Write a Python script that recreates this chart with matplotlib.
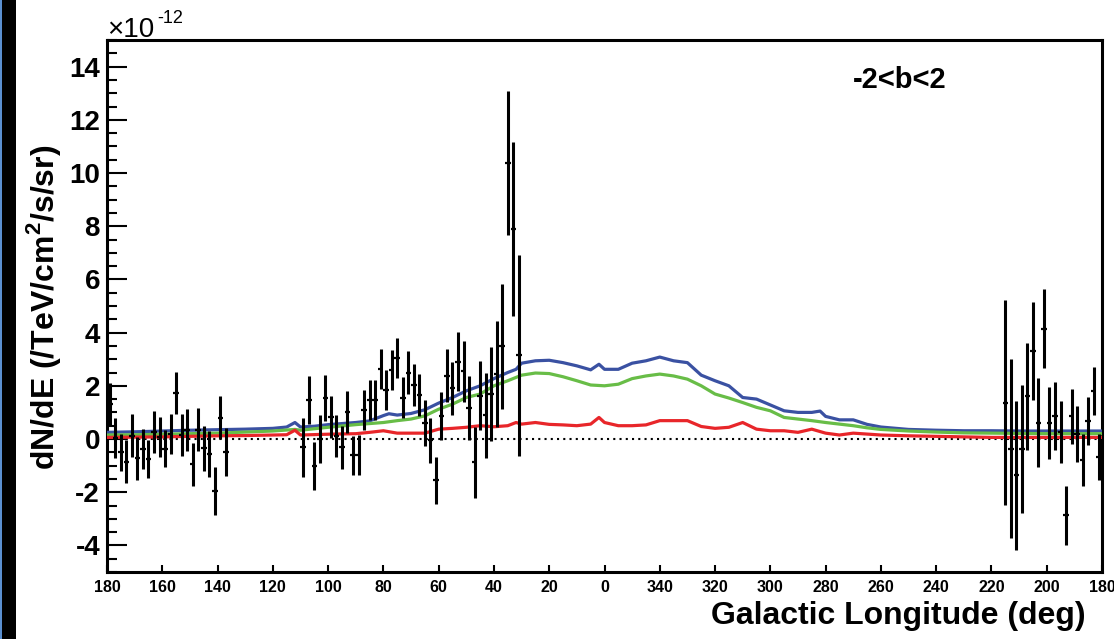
import numpy as np
import matplotlib
matplotlib.use("Agg")
import matplotlib.pyplot as plt
from matplotlib.ticker import MultipleLocator, FixedLocator, FixedFormatter
from matplotlib.patches import Rectangle

plt.rcParams['font.family'] = ['Liberation Sans', 'DejaVu Sans']
plt.rcParams['mathtext.fontset'] = 'custom'
plt.rcParams['mathtext.rm'] = 'Liberation Sans'
plt.rcParams['mathtext.bf'] = 'Liberation Sans:bold'
plt.rcParams['axes.unicode_minus'] = False

# ---------------- data (flux in units of 1e-12 /TeV/cm2/s/sr) ----------------
point_lon = [179, 177, 175, 173, 171, 169, 167, 165, 163, 161, 159, 157, 155, 153,
             151, 149, 147, 145, 143, 141, 139, 137,
             109, 107, 105, 103, 101, 99, 97, 95, 93, 91, 89, 87, 85, 83, 81, 79,
             77, 75, 73, 71, 69, 67, 65, 63, 61, 59, 57, 55, 53, 51, 49, 47, 45,
             43, 41, 39, 37, 35, 33, 31,
             215, 213, 211, 209, 207, 205, 203, 201, 199, 197, 195, 193, 191, 189,
             187, 185, 183, 181]
point_flux = [1.30, 0.03, -0.50, -0.85, 0.13, -0.73, -0.37, -0.75, 0.27, 0.07, -0.37,
              0.20, 1.73, 0.15, 0.33, -0.95, 0.35, -0.35, -0.56, -1.96, 0.80, -0.50,
              -0.31, 1.47, -1.00, 0.00, 1.54, 0.83, 0.12, -0.31, 1.02, -0.62, -0.61,
              1.10, 1.46, 1.45, 2.64, 1.84, 2.59, 3.03, 1.56, 2.50, 2.03, 1.65, 0.60,
              -0.05, -1.56, 0.85, 2.38, 1.90, 2.91, 2.54, 1.15, -0.87, 1.63, 0.90,
              1.69, 2.44, 3.48, 10.37, 7.90, 3.15,
              1.37, -0.37, -1.37, -0.37, 1.60, 3.31, 0.62, 4.15, 0.60, 0.87, 0.25,
              -2.87, 0.85, 0.19, -0.79, 0.69, 1.81, -0.69]
point_err = [0.80, 0.75, 0.70, 0.80, 0.80, 0.80, 0.75, 0.70, 0.80, 0.75, 0.70, 0.75,
             0.78, 0.78, 0.78, 0.80, 0.80, 0.85, 0.85, 0.90, 0.80, 0.90,
             1.10, 0.90, 0.90, 0.90, 0.85, 0.80, 0.80, 0.80, 0.80, 0.75, 0.75, 0.75,
             0.75, 0.75, 0.75, 0.75, 0.75, 0.75, 0.78, 0.80, 0.80, 0.80, 0.85, 0.85,
             0.90, 0.90, 1.00, 1.00, 1.10, 1.15, 1.20, 1.33, 1.30, 1.60, 1.77, 2.00,
             2.35, 2.70, 3.27, 3.78,
             3.85, 3.36, 2.80, 2.40, 2.00, 1.84, 1.67, 1.49, 1.37, 1.28, 1.17, 1.10,
             1.04, 1.04, 0.98, 0.90, 0.89, 0.87]

# model curves, longitude given as signed galactic longitude (-180..180)
blue_lon = [180, 170, 160, 150, 140, 130, 120, 115, 112, 110, 105, 100, 95, 90, 85,
            80, 78, 75, 70, 65, 60, 55, 50, 45, 40, 35, 32, 30, 25, 20, 15, 10, 5,
            2, 0, -5, -10, -15, -20, -25, -30, -35, -40, -45, -50, -55, -60, -65,
            -70, -75, -78, -80, -85, -90, -95, -100, -110, -120, -130, -140, -150,
            -160, -170, -180]
blue_flux = [0.25, 0.27, 0.30, 0.33, 0.35, 0.37, 0.40, 0.45, 0.62, 0.45, 0.48, 0.54,
             0.58, 0.62, 0.68, 0.88, 0.95, 0.90, 0.96, 1.10, 1.35, 1.56, 1.81, 2.00,
             2.27, 2.50, 2.62, 2.85, 2.94, 2.96, 2.87, 2.75, 2.60, 2.81, 2.62, 2.62,
             2.85, 2.94, 3.08, 2.94, 2.87, 2.40, 2.19, 2.00, 1.56, 1.50, 1.28, 1.06,
             1.00, 1.00, 1.05, 0.85, 0.72, 0.72, 0.55, 0.45, 0.36, 0.33, 0.31, 0.31,
             0.30, 0.30, 0.30, 0.30]

green_lon = [180, 170, 160, 150, 140, 130, 120, 112, 110, 100, 90, 80, 75, 70, 65,
             60, 55, 50, 45, 40, 35, 30, 25, 20, 15, 10, 5, 0, -5, -10, -15, -20,
             -25, -30, -35, -40, -45, -50, -55, -60, -65, -70, -75, -80, -85, -90,
             -95, -100, -110, -120, -130, -140, -150, -160, -170, -180]
green_flux = [0.15, 0.16, 0.18, 0.20, 0.22, 0.26, 0.30, 0.36, 0.33, 0.44, 0.54, 0.62,
              0.69, 0.75, 0.87, 1.12, 1.31, 1.56, 1.69, 2.00, 2.19, 2.40, 2.48, 2.46,
              2.34, 2.19, 2.03, 2.00, 2.06, 2.27, 2.37, 2.44, 2.37, 2.25, 2.00, 1.69,
              1.54, 1.37, 1.19, 1.06, 0.81, 0.75, 0.69, 0.62, 0.56, 0.50, 0.42, 0.36,
              0.30, 0.26, 0.23, 0.22, 0.21, 0.20, 0.20, 0.20]

red_lon = [180, 170, 160, 150, 140, 130, 120, 115, 112, 110, 100, 90, 85, 80, 75, 70,
           65, 60, 55, 50, 45, 40, 35, 32, 30, 25, 20, 15, 10, 5, 2, 0, -5, -10,
           -15, -20, -25, -30, -35, -40, -45, -50, -55, -60, -65, -70, -75, -80,
           -85, -90, -100, -110, -120, -130, -140, -150, -160, -170, -180]
red_flux = [0.06, 0.07, 0.08, 0.10, 0.12, 0.13, 0.15, 0.16, 0.33, 0.15, 0.18, 0.20,
            0.25, 0.31, 0.22, 0.22, 0.22, 0.37, 0.40, 0.44, 0.50, 0.46, 0.50, 0.62,
            0.56, 0.62, 0.55, 0.53, 0.50, 0.56, 0.81, 0.62, 0.50, 0.50, 0.53, 0.69,
            0.69, 0.69, 0.47, 0.40, 0.44, 0.62, 0.37, 0.31, 0.31, 0.25, 0.37, 0.22,
            0.15, 0.22, 0.15, 0.12, 0.10, 0.08, 0.06, 0.06, 0.06, 0.06, 0.06]

tick_pos = list(range(180, -181, -20))
tick_labels = [str(t % 360) if t != 180 and t != -180 else "180" for t in tick_pos]

# ---------------- figure ----------------
W, H = 1114, 639
fig = plt.figure(figsize=(W / 100, H / 100), dpi=100)
fig.patch.set_facecolor('white')

# left dark frame strip
fig.patches.append(Rectangle((0, 0), 16 / W, 1, transform=fig.transFigure,
                             facecolor='black', edgecolor='none', zorder=0))
fig.patches.append(Rectangle((0, 0), 1.7 / W, 1, transform=fig.transFigure,
                             facecolor='#5a8fd0', edgecolor='none', zorder=1))

x0, x1, yt, yb = 107, 1102, 40, 572
ax = fig.add_axes([x0 / W, 1 - yb / H, (x1 - x0) / W, (yb - yt) / H])

def signed(l):
    l = np.asarray(l, dtype=float)
    return np.where(l > 180, l - 360, l)

ax.plot([180, -180], [0, 0], color='black', lw=1.5, dashes=(1, 2), zorder=2)
ax.plot(signed(blue_lon), blue_flux, color='#3a51a2', lw=2.3, zorder=3)
ax.plot(signed(green_lon), green_flux, color='#68bd47', lw=2.3, zorder=3)
ax.plot(signed(red_lon), red_flux, color='#e8262a', lw=2.3, zorder=3)

px = signed(point_lon)
ax.errorbar(px, point_flux, yerr=point_err, fmt='none', ecolor='black',
            elinewidth=2.2, capsize=0, zorder=5)
ax.errorbar(px, point_flux, xerr=1.0, fmt='none', ecolor='black',
            elinewidth=1.6, capsize=0, zorder=5)

ax.set_xlim(180, -180)
ax.set_ylim(-5, 15)

ax.xaxis.set_major_locator(FixedLocator(tick_pos))
ax.xaxis.set_major_formatter(FixedFormatter(tick_labels))
ax.yaxis.set_major_locator(MultipleLocator(2))
ax.yaxis.set_minor_locator(MultipleLocator(0.5))

ax.tick_params(axis='y', which='major', direction='in', length=14.4, width=1.5,
               labelsize=20, pad=5, left=True, right=False)
ax.tick_params(axis='y', which='minor', direction='in', length=7.2, width=1.5,
               left=True, right=False)
ax.tick_params(axis='x', which='major', direction='in', length=5, width=1.5,
               labelsize=11.5, pad=6, top=False, bottom=True)
for lab in ax.get_yticklabels() + ax.get_xticklabels():
    lab.set_fontweight('bold')

for s in ax.spines.values():
    s.set_linewidth(2.2)
    s.set_color('black')

# texts
fig.text(44 / W, 1 - 307 / H, r'dN/dE (/TeV/cm$^{\mathbf{2}}$/s/sr)', rotation=90,
         ha='center', va='center', fontsize=23, fontweight='bold')
fig.text(1086 / W, 1 - 624 / H, 'Galactic Longitude (deg)', ha='right',
         va='baseline', fontsize=23, fontweight='bold')
fig.text(107 / W, 1 - 37 / H, '\u00d710', ha='left', va='baseline', fontsize=20)
fig.text(157 / W, 1 - 23 / H, '-12', ha='left', va='baseline', fontsize=13)
fig.text(853 / W, 1 - 88 / H, '-2<b<2', ha='left', va='baseline', fontsize=21,
         fontweight='bold')

fig.savefig('out.png', dpi=100)
